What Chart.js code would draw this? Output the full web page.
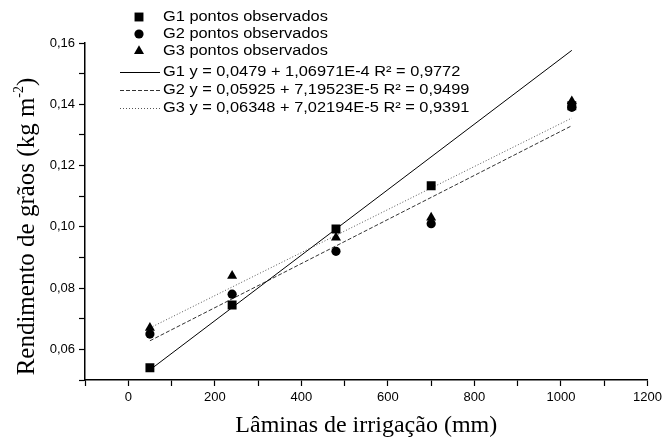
<!DOCTYPE html>
<html>
<head>
<meta charset="utf-8">
<script src="https://cdn.jsdelivr.net/npm/chart.js@4.4.0/dist/chart.umd.min.js"></script>
<style>
html, body { margin: 0; padding: 0; background: #fff; }
#wrap { width: 666px; height: 441px; }
</style>
</head>
<body>
<div id="wrap"><canvas id="graficoLaminas"></canvas></div>
<script>
// laminas de irrigacao (mm) e rendimento observado (kg m-2)
var laminas = [50, 240, 480, 700, 1025];
var g1Pontos = [0.054, 0.0745, 0.0993, 0.1134, 0.1395];
var g2Pontos = [0.065, 0.078, 0.092, 0.101, 0.139];
var g3Pontos = [0.067, 0.084, 0.0965, 0.103, 0.141];

var retaX = [50, 1025];
var g1Reta = [0.0533, 0.1576];
var g2Reta = [0.0628, 0.1330];
var g3Reta = [0.0670, 0.1355];

var legendas = [
    "G1 pontos observados",
    "G2 pontos observados",
    "G3 pontos observados",
    "G1 y = 0,0479 + 1,06971E-4 R² = 0,9772",
    "G2 y = 0,05925 + 7,19523E-5 R² = 0,9499",
    "G3 y = 0,06348 + 7,02194E-5 R² = 0,9391"
];

var xLabels = ["0", "200", "400", "600", "800", "1000", "1200"];
var yLabels = ["0,06", "0,08", "0,10", "0,12", "0,14", "0,16"];

var tituloX = "Lâminas de irrigação (mm)";
var tituloY = ["Rendimento de grãos (kg m", "-2", ")"];

function pares(xs, ys) {
    var lista = [];
    for (var i = 0; i < xs.length; i++) {
        lista.push({ x: xs[i], y: ys[i] });
    }
    return lista;
}

function pontos(label, data, estilo, raio, ordem) {
    return {
        type: "scatter",
        label: label,
        data: data,
        pointStyle: estilo,
        pointRadius: raio,
        pointHoverRadius: raio,
        backgroundColor: "#000",
        borderColor: "#000",
        borderWidth: 0,
        order: ordem
    };
}

function reta(label, data, cor, traco, ordem) {
    return {
        type: "line",
        label: label,
        data: data,
        showLine: true,
        pointRadius: 0,
        borderColor: cor,
        borderWidth: 1,
        borderDash: traco,
        fill: false,
        order: ordem
    };
}

var datasets = [
    pontos(legendas[0], pares(laminas, g1Pontos), "rect", 6.3, 2),
    pontos(legendas[1], pares(laminas, g2Pontos), "circle", 4.6, 1),
    pontos(legendas[2], pares(laminas, g3Pontos), "triangle", 5.8, 0),
    reta(legendas[3], pares(retaX, g1Reta), "#000", [], 3),
    reta(legendas[4], pares(retaX, g2Reta), "#333", [4, 2], 4),
    reta(legendas[5], pares(retaX, g3Reta), "#555", [1, 2], 5)
];

// legenda e titulos dos eixos desenhados a mao
var legendaPlugin = {
    id: "legendaPlugin",
    afterDraw: function (chart) {
        var ctx = chart.ctx;
        var linhasY = [17, 34, 51, 72, 90, 108];
        ctx.save();
        ctx.font = '14px "Liberation Sans", Arial, sans-serif';
        ctx.textBaseline = "middle";
        ctx.textAlign = "left";
        for (var i = 0; i < datasets.length; i++) {
            var ds = datasets[i];
            var y = linhasY[i];
            if (ds.type === "scatter") {
                ctx.fillStyle = "#000";
                Chart.helpers.drawPoint(ctx, {
                    pointStyle: ds.pointStyle,
                    radius: ds.pointRadius,
                    borderWidth: 0
                }, 139, y);
            } else {
                ctx.beginPath();
                ctx.strokeStyle = ds.borderColor;
                ctx.lineWidth = 1;
                ctx.setLineDash(ds.borderDash);
                ctx.moveTo(120, y + 0.5);
                ctx.lineTo(160, y + 0.5);
                ctx.stroke();
                ctx.setLineDash([]);
            }
            // texto da legenda um pouco esticado na horizontal, como no original
            ctx.save();
            ctx.translate(163, y);
            ctx.scale(1.17, 1);
            ctx.fillStyle = "#000";
            ctx.fillText(ds.label, 0, 0);
            ctx.restore();
        }

        ctx.fillStyle = "#000";
        ctx.font = '24px "Liberation Serif", "Times New Roman", serif';
        ctx.textAlign = "center";
        var area = chart.chartArea;
        ctx.fillText(tituloX, (area.left + area.right) / 2, 426);

        ctx.translate(27, (area.top + area.bottom) / 2 + 15);
        ctx.rotate(-Math.PI / 2);
        ctx.textAlign = "left";
        var fonte = '25px "Liberation Serif", "Times New Roman", serif';
        var fonteSup = '14px "Liberation Serif", "Times New Roman", serif';
        ctx.font = fonte;
        var w1 = ctx.measureText(tituloY[0]).width;
        var w3 = ctx.measureText(tituloY[2]).width;
        ctx.font = fonteSup;
        var w2 = ctx.measureText(tituloY[1]).width;
        var x0 = -(w1 + w2 + w3) / 2;
        ctx.font = fonte;
        ctx.fillText(tituloY[0], x0, 0);
        ctx.font = fonteSup;
        ctx.fillText(tituloY[1], x0 + w1, -8);
        ctx.font = fonte;
        ctx.fillText(tituloY[2], x0 + w1 + w2, 0);
        ctx.restore();
    }
};

new Chart("graficoLaminas", {
    data: { datasets: datasets },
    options: {
        responsive: true,
        maintainAspectRatio: false,
        animation: false,
        layout: { padding: { top: 43, left: 40, right: 5, bottom: 30 } },
        plugins: {
            legend: { display: false },
            tooltip: { enabled: false }
        },
        scales: {
            x: {
                type: "linear",
                min: -100,
                max: 1200,
                afterFit: function (s) { s.height = 31; },
                ticks: {
                    stepSize: 100,
                    autoSkip: false,
                    maxRotation: 0,
                    padding: 4,
                    color: "#000",
                    font: { family: '"Liberation Sans", Arial, sans-serif', size: 13 },
                    callback: function (v) {
                        if (v >= 0 && v % 200 === 0) return xLabels[v / 200];
                        return "";
                    }
                },
                grid: {
                    drawOnChartArea: false,
                    drawTicks: true,
                    tickLength: 6,
                    tickColor: "#000",
                    tickWidth: 1.2
                },
                border: { display: true, color: "#000", width: 1.5 }
            },
            y: {
                type: "linear",
                min: 0.05,
                max: 0.16,
                afterFit: function (s) { s.width = 45; },
                ticks: {
                    stepSize: 0.01,
                    autoSkip: false,
                    padding: 4,
                    color: "#000",
                    font: { family: '"Liberation Sans", Arial, sans-serif', size: 13 },
                    callback: function (v) {
                        var r = Math.round(v * 100);
                        if (r >= 6 && r % 2 === 0) return yLabels[(r - 6) / 2];
                        return "";
                    }
                },
                grid: {
                    drawOnChartArea: false,
                    drawTicks: true,
                    tickLength: 6,
                    tickColor: "#000",
                    tickWidth: 1.2
                },
                border: { display: true, color: "#000", width: 1.5 }
            }
        }
    },
    plugins: [legendaPlugin]
});
</script>
</body>
</html>
